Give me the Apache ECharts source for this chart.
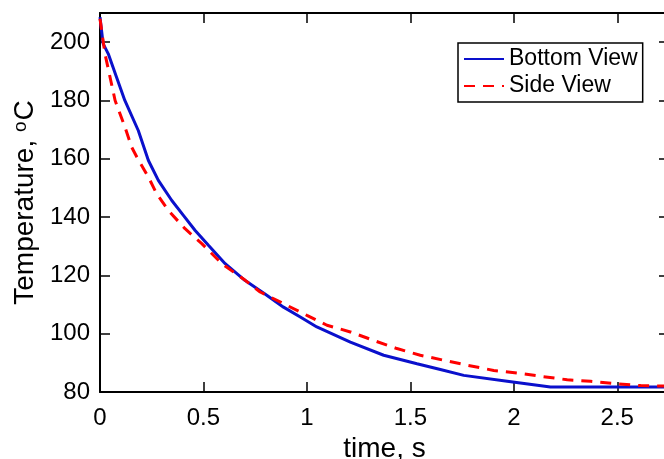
<!DOCTYPE html>
<html>
<head>
<meta charset="utf-8">
<title>Temperature vs time</title>
<script src="https://cdn.jsdelivr.net/npm/echarts@6/dist/echarts.min.js"></script>
<style>
  html, body { margin: 0; padding: 0; background: #fff; }
  #chart { width: 664px; height: 459px; }
</style>
</head>
<body>
<div id="chart"></div>
<script>
  /** Data */
  var bottomTime = [0, 0.015, 0.04, 0.08, 0.12, 0.185, 0.234, 0.282, 0.347, 0.403, 0.46, 0.524, 0.605, 0.70,
    0.806, 0.887, 0.968, 1.048, 1.21, 1.371, 1.532, 1.645, 1.758, 1.968, 2.177, 2.75];
  var bottomTemp = [208.6, 199.5, 196, 188, 180, 169.7, 159.4, 152.6, 145.7, 140.6, 135.4, 130.3, 124, 118.3,
    113.2, 109.1, 105.7, 102.3, 97.1, 92.6, 89.7, 87.7, 85.7, 83.7, 81.7, 81.7];

  var sideTime = [0, 0.024, 0.073, 0.121, 0.153, 0.178, 0.234, 0.274, 0.33, 0.411, 0.492, 0.589, 0.702, 0.774,
    0.887, 1.0, 1.097, 1.21, 1.322, 1.435, 1.548, 1.661, 1.774, 1.903, 2.016, 2.129, 2.258, 2.371, 2.484, 2.613, 2.75];
  var sideTemp = [208, 196, 180, 170.8, 164, 160.6, 153.7, 148, 142.3, 136, 130.9, 124, 118.3, 114.3,
    110.3, 106.3, 102.9, 100.6, 97.7, 94.9, 92.6, 90.9, 89.2, 87.4, 86.5, 85.4, 84.2, 83.7, 82.9, 82.2, 82.0];

  var seriesNames = ['Bottom View', 'Side View'];

  (function() {
    var font = 'Liberation Sans, Arial, sans-serif';

    function zip(xs, ys) {
      var out = [];
      for (var i = 0; i < xs.length; i++) {
        out.push([xs[i], ys[i]]);
      }
      return out;
    }

    var axisLine = { show: true, onZero: false, lineStyle: { color: '#000', width: 2 } };
    var axisTick = { show: true, inside: true, length: 10, lineStyle: { color: '#000', width: 1.5 } };

    var chart = echarts.init(document.getElementById('chart'), null, { renderer: 'canvas' });
    chart.setOption({
      animation: false,
      backgroundColor: '#fff',
      textStyle: { fontFamily: font },
      // plot box runs a few px past the right edge, like the cropped original
      grid: { left: 100, right: -5, top: 13, bottom: 67, containLabel: false, outerBoundsMode: 'none' },
      legend: {
        orient: 'vertical',
        left: 458,
        top: 43,
        data: seriesNames,
        itemWidth: 40,
        itemHeight: 14,
        itemGap: 3,
        padding: [4, 5],
        borderColor: '#000',
        borderWidth: 1.5,
        backgroundColor: '#fff',
        // hide the round symbol, keep the line sample
        itemStyle: { opacity: 0, borderWidth: 0 },
        textStyle: { fontFamily: font, fontSize: 23, color: '#000', lineHeight: 24 }
      },
      xAxis: [{
        type: 'value',
        min: 0,
        max: 2.75,
        interval: 0.5,
        name: 'time, s',
        nameLocation: 'middle',
        nameGap: 38,
        nameTextStyle: { fontFamily: font, fontSize: 28, color: '#000' },
        axisLine: axisLine,
        axisTick: axisTick,
        splitLine: { show: false },
        axisLabel: { fontFamily: font, fontSize: 24, color: '#000', margin: 14, showMaxLabel: false }
      }, {
        type: 'value',
        position: 'top',
        min: 0,
        max: 2.75,
        interval: 0.5,
        axisLine: axisLine,
        axisTick: axisTick,
        splitLine: { show: false },
        axisLabel: { show: false }
      }],
      yAxis: [{
        type: 'value',
        min: 80,
        max: 210,
        interval: 20,
        name: 'Temperature, {sup|o}C',
        nameLocation: 'middle',
        nameGap: 60,
        nameTextStyle: {
          fontFamily: font, fontSize: 28, color: '#000',
          rich: {
            sup: { fontFamily: font, fontSize: 19, color: '#000', verticalAlign: 'top', padding: [0, 1, 8, 0] }
          }
        },
        axisLine: axisLine,
        axisTick: axisTick,
        splitLine: { show: false },
        axisLabel: { fontFamily: font, fontSize: 24, color: '#000', margin: 10, showMaxLabel: false }
      }, {
        type: 'value',
        position: 'right',
        min: 80,
        max: 210,
        interval: 20,
        axisLine: axisLine,
        axisTick: axisTick,
        splitLine: { show: false },
        axisLabel: { show: false }
      }],
      series: [{
        name: seriesNames[0],
        type: 'line',
        showSymbol: false,
        symbol: 'none',
        color: '#0a10cc',
        lineStyle: { color: '#0a10cc', width: 3 },
        data: zip(bottomTime, bottomTemp),
        z: 3
      }, {
        name: seriesNames[1],
        type: 'line',
        showSymbol: false,
        symbol: 'none',
        color: '#ff0000',
        lineStyle: { color: '#ff0000', width: 3, type: [11, 8] },
        data: zip(sideTime, sideTemp),
        z: 4
      }]
    });
  })();
</script>
</body>
</html>
